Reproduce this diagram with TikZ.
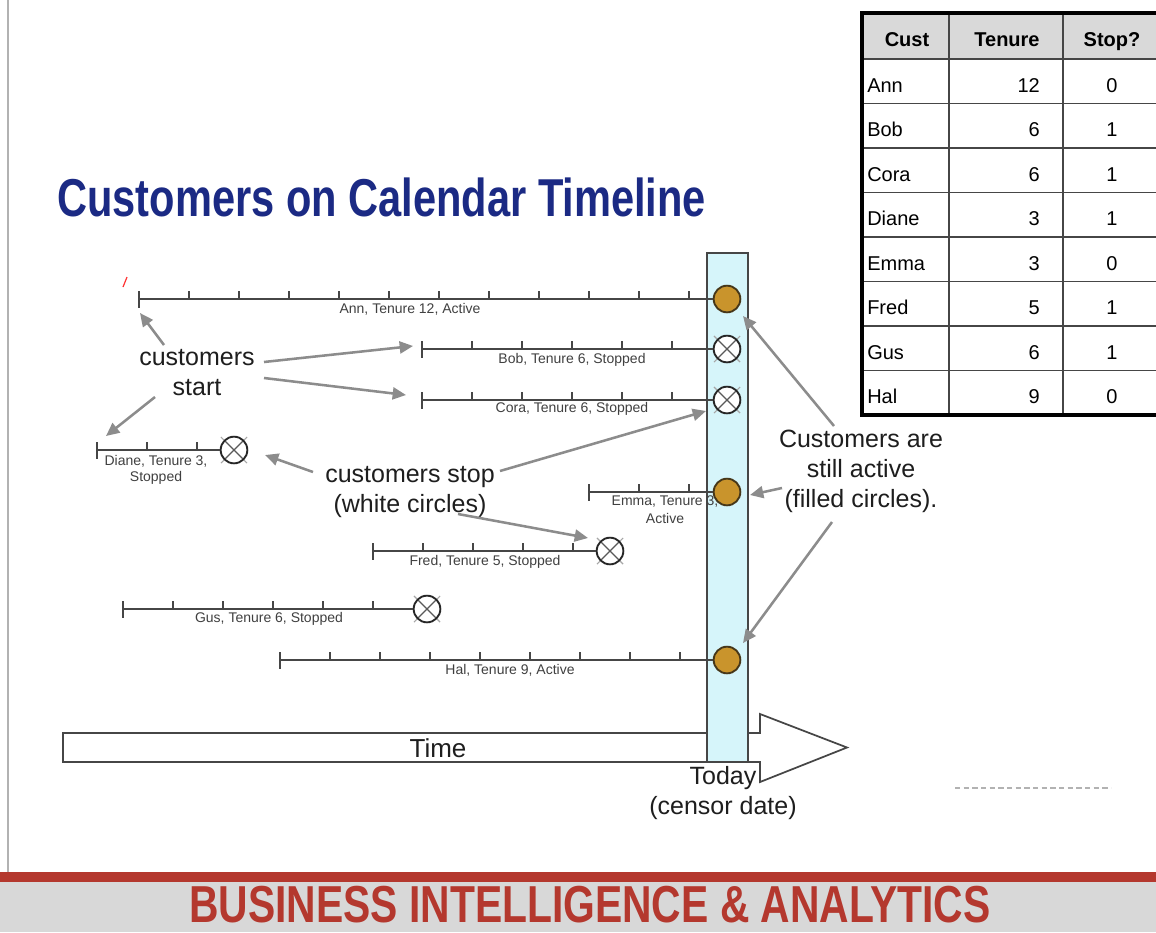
\documentclass[tikz,border=0pt]{standalone}
\usepackage{fontspec}
\setmainfont{Liberation Sans}
\usepackage{graphicx}
\usetikzlibrary{arrows.meta,calc}

\definecolor{titleblue}{RGB}{27,42,132}
\definecolor{gold}{RGB}{201,148,44}
\definecolor{goldedge}{RGB}{70,55,25}
\definecolor{todaycyan}{RGB}{214,245,250}
\definecolor{pointergray}{RGB}{140,140,140}
\definecolor{footred}{RGB}{180,56,46}
\definecolor{footgray}{RGB}{216,216,216}
\definecolor{ink}{RGB}{30,30,30}
\definecolor{rulegray}{RGB}{70,70,70}
\definecolor{headgray}{RGB}{217,217,217}

\newcommand\fsz[2]{\fontsize{#1}{#2}\selectfont}

\tikzset{
  tl/.style={draw=rulegray, line width=1.5pt},
  active/.style={circle, fill=gold, draw=goldedge, line width=1.4pt,
    minimum size=20pt, inner sep=0pt},
  stopped/.style={circle, fill=white, draw=black!85, line width=1.4pt,
    minimum size=20pt, inner sep=0pt,
    path picture={\draw[black!65, line width=1pt]
      (path picture bounding box.south west) -- (path picture bounding box.north east)
      (path picture bounding box.north west) -- (path picture bounding box.south east);}},
  xext/.style={draw=black!35, line width=0.8pt},
  pointer/.style={draw=pointergray, line width=1.9pt,
    -{Triangle[length=10pt,width=9pt]}},
  note/.style={text=ink, align=center, font=\fsz{18.75}{22.5}, inner sep=0pt},
  tag/.style={text=black!75, align=center, font=\fsz{10.5}{12.5}, inner sep=0pt},
  cell/.style={font=\fsz{15}{18}, text=black, inner sep=0pt, anchor=base},
  headcell/.style={cell, font=\fsz{15}{18}\bfseries},
}

\begin{document}
\begin{tikzpicture}[x=0.75pt,y=-0.75pt]
  \clip (0,0) rectangle (1156,932);
  \fill[white] (0,0) rectangle (1156,932);

  % slide edge
  \draw[black!30, line width=0.8pt] (8,0) -- (8,872);

  % heading
  \node[anchor=base west, inner sep=0pt, text=titleblue, font=\fsz{40}{44}\bfseries]
    (title) at (57,216) {\scalebox{0.78}[1]{Customers on Calendar Timeline}};

  % ---- data table ----
  \fill[headgray] (862,13) rectangle (1162,59);
  \foreach \i in {0,...,7} {
    \draw[rulegray, line width=1.1pt] (862,59+44.5*\i) -- (1162,59+44.5*\i);
  }
  \draw[rulegray, line width=1.1pt] (949,13) -- (949,415);
  \draw[rulegray, line width=1.1pt] (1063,13) -- (1063,415);
  \draw[black, line width=2.4pt] (862,13) rectangle (1162,415);

  \node[headcell] (hcust) at (907,46) {Cust};
  \node[headcell] (hten) at (1007,46) {Tenure};
  \node[headcell] (hstop) at (1112,46) {Stop?};
  \foreach \nm/\ten/\st [count=\i] in
    {Ann/12/0, Bob/6/1, Cora/6/1, Diane/3/1, Emma/3/0, Fred/5/1, Gus/6/1, Hal/9/0} {
    \node[cell, anchor=base west] (name\i) at (867,59+44.5*\i-11.5) {\nm};
    \node[cell, anchor=base east] (ten\i) at (1040,59+44.5*\i-11.5) {\ten};
    \node[cell] (stop\i) at (1112,59+44.5*\i-11.5) {\st};
  }

  % ---- time arrow ----
  \draw[rulegray, line width=1.3pt, fill=white]
    (63,733) -- (760,733) -- (760,714) -- (847,747.5) -- (760,782)
    -- (760,762) -- (63,762) -- cycle;
  \node[text=ink, font=\fsz{19.5}{22}, inner sep=0pt] (time) at (438,748) {Time};

  % ---- censor date band ----
  \draw[rulegray, line width=1.2pt, fill=todaycyan] (707,253) rectangle (748,762);

  % ---- customer timelines ----
  \foreach \nm/\xa/\yy/\nk/\xc/\kind in
    {ann/139/299/11/727/active,
     bob/422/349/5/727/stopped,
     cora/422/400/5/727/stopped,
     diane/97/450/2/234/stopped,
     emma/589/492/2/727/active,
     fred/373/551/4/610/stopped,
     gus/123/609/5/427/stopped,
     hal/280/660/8/727/active} {
    \coordinate (\nm-s) at (\xa,\yy);
    \node[\kind] (\nm-c) at (\xc,\yy) {};
    \draw[tl] (\nm-s) -- (\nm-c);
    \draw[tl] (\xa,\yy-8) -- (\xa,\yy+9);
    \foreach \k in {1,...,\nk} {
      \draw[tl] (\xa+50*\k,\yy) -- (\xa+50*\k,\yy-8);
    }
  }
  % cross strokes poking out of the stop markers
  \foreach \nm in {bob,cora,diane,fred,gus} {
    \foreach \a in {45,135,225,315} {
      \draw[xext] (\nm-c.\a) -- ($(\nm-c.center)!1.3!(\nm-c.\a)$);
    }
  }

  % timeline captions
  \node[tag] (ann-t) at (410,309) {Ann, Tenure 12, Active};
  \node[tag] (bob-t) at (572,360) {Bob, Tenure 6, Stopped};
  \node[tag] (cora-t) at (572,409) {Cora, Tenure 6, Stopped};
  \node[tag] (diane-t) at (156,470) {Diane, Tenure 3,\\Stopped};
  \node[tag, font=\fsz{10.5}{13.5}] (emma-t) at (665,510) {Emma, Tenure 3,\\Active};
  \node[tag] (fred-t) at (485,562) {Fred, Tenure 5, Stopped};
  \node[tag] (gus-t) at (269,619) {Gus, Tenure 6, Stopped};
  \node[tag] (hal-t) at (510,670) {Hal, Tenure 9, Active};

  % ---- call-outs ----
  \node[note] (startnote) at (197,373) {customers\\start};
  \node[note] (stopnote) at (410,492) {customers stop\\(white circles)};
  \node[note] (activenote) at (861,471) {Customers are\\still active\\(filled circles).};
  \node[note] (today) at (723,793) {Today\\(censor date)};

  \coordinate (sa0) at (164,345);  \coordinate (sa1) at (140,313);
  \coordinate (sb0) at (264,362);  \coordinate (sb1) at (413,346);
  \coordinate (sc0) at (264,378);  \coordinate (sc1) at (406,395);
  \coordinate (sd0) at (155,397);  \coordinate (sd1) at (106,436);
  \draw[pointer] (sa0) -- (sa1);
  \draw[pointer] (sb0) -- (sb1);
  \draw[pointer] (sc0) -- (sc1);
  \draw[pointer] (sd0) -- (sd1);

  \coordinate (ta0) at (313,472);  \coordinate (ta1) at (265,455);
  \coordinate (tb0) at (500,471);  \coordinate (tb1) at (706,411);
  \coordinate (tc0) at (458,514);  \coordinate (tc1) at (588,538);
  \draw[pointer] (ta0) -- (ta1);
  \draw[pointer] (tb0) -- (tb1);
  \draw[pointer] (tc0) -- (tc1);

  \coordinate (ua0) at (834,426);  \coordinate (ua1) at (743,316);
  \coordinate (ub0) at (782,488);  \coordinate (ub1) at (750,495);
  \coordinate (uc0) at (832,522);  \coordinate (uc1) at (743,643);
  \draw[pointer] (ua0) -- (ua1);
  \draw[pointer] (ub0) -- (ub1);
  \draw[pointer] (uc0) -- (uc1);

  % stray marks
  \draw[red!80, line width=0.9pt] (123,287) -- (127,277);
  \draw[black!30, line width=1.2pt, dash pattern=on 4pt off 2.5pt] (955,788) -- (1111,788);

  % ---- footer ----
  \fill[footgray] (0,882) rectangle (1156,932);
  \fill[footred] (0,872) rectangle (1156,882);
  \node[inner sep=0pt, text=footred, font=\fsz{39}{44}\bfseries] (footer) at (590,905)
    {\scalebox{0.785}[1]{BUSINESS INTELLIGENCE \& ANALYTICS}};
\end{tikzpicture}
\end{document}
